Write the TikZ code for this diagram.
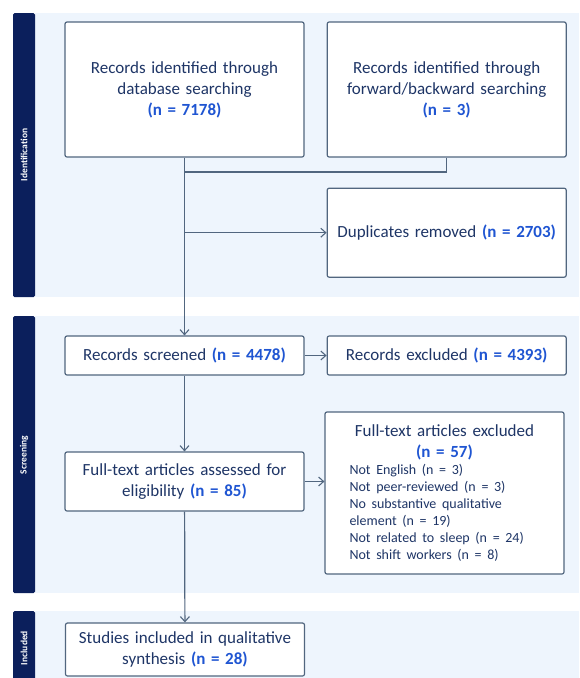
\documentclass[tikz,border=0pt]{standalone}
\usepackage{fontspec}
\setmainfont{Carlito}
\usetikzlibrary{positioning,arrows.meta}
\definecolor{linec}{HTML}{51667F}
\definecolor{textc}{HTML}{1E3566}
\definecolor{numc}{HTML}{1F55D2}
\definecolor{bandc}{HTML}{0B1F5C}
\definecolor{bgc}{HTML}{EEF5FD}
\newcommand{\nval}[1]{{\bfseries\color{numc}#1}}
\tikzstyle{every node}=[font=\fontsize{17}{21}\selectfont,text=textc,node distance=22pt and 22pt]
\tikzstyle{textbox} = [rounded corners=2pt, text width=225pt, align=center, draw=linec, line width=1.2pt, fill=white, inner sep=0pt]
\tikzstyle{block} = [rectangle,textbox,minimum width=239pt]
\tikzstyle{arrow} = [line width=1.2pt,draw=linec,-{Straight Barb[length=5pt,width=9pt,line width=1.1pt]}]
\tikzstyle{line} = [line width=1.2pt,draw=linec]
\tikzstyle{band} = [fill=bandc,rounded corners=1.5pt]
\tikzstyle{bandtext} = [rotate=90,text=white,font=\fontsize{9.5}{11}\selectfont\bfseries]
\begin{document}
\begin{tikzpicture}[x=1pt,y=-1pt]
\useasboundingbox (0,0) rectangle (579,678);
% stage backgrounds
\fill[bgc] (35,13) rectangle (579,297);
\fill[bgc] (35,316) rectangle (579,593);
\fill[bgc] (35,611) rectangle (579,678);
\fill[band] (13,13) rectangle (35,297);
\fill[band] (13,316) rectangle (35,593);
\fill[band] (13,611) rectangle (35,685);
\node (idlab) [bandtext] at (24,155) {Identification};
\node (scrlab) [bandtext] at (24,455) {Screening};
\node (inclab) [bandtext] at (24,648) {Included};

% identification
\node (db) [block, minimum height=135pt] at (184.5,89.5) {Records identified through\\database searching\\\nval{(n = 7178)}};
\node (fw) [block, right=of db, minimum height=135pt] {Records identified through\\forward/backward searching\\\nval{(n = 3)}};
\node (dup) [block, below=30pt of fw, minimum height=89pt] {Duplicates removed \nval{(n = 2703)}};

% screening
\node (screened) [block, minimum height=39pt] at (184.5,355.5) {Records screened \nval{(n = 4478)}};
\node (excl) [block, right=of screened, minimum height=39pt] {Records excluded \nval{(n = 4393)}};
\node (assessed) [block, minimum height=59pt] at (184.5,481.5) {Full-text articles assessed for\\eligibility \nval{(n = 85)}};
\node (ftexcl) [rectangle, rounded corners=2pt, draw=linec, line width=1.2pt, fill=white, minimum width=239pt, minimum height=162pt, text width=190pt, inner sep=0pt] at (444.5,493) {\centering Full-text articles excluded\\\nval{(n = 57)}\par
\raggedright\fontsize{14}{17}\selectfont Not English (n = 3)\\Not peer-reviewed (n = 3)\\No substantive qualitative\\element (n = 19)\\Not related to sleep (n = 24)\\Not shift workers (n = 8)\par};

% included
\node (studies) [block, minimum height=53pt] at (185,649.5) {Studies included in qualitative\\synthesis \nval{(n = 28)}};

\coordinate (join) at (db.south |- 0,172);
\draw[line] (fw.south) |- (join);
\draw[arrow] (db.south) -- (screened.north);
\draw[arrow] (db.south |- dup.west) -- (dup.west);
\draw[arrow] (screened) -- (excl);
\draw[arrow] (screened) -- (assessed);
\draw[arrow] (assessed.east) -- (assessed.east -| ftexcl.west);
\draw[arrow] (assessed) -- (studies);
\end{tikzpicture}
\end{document}
